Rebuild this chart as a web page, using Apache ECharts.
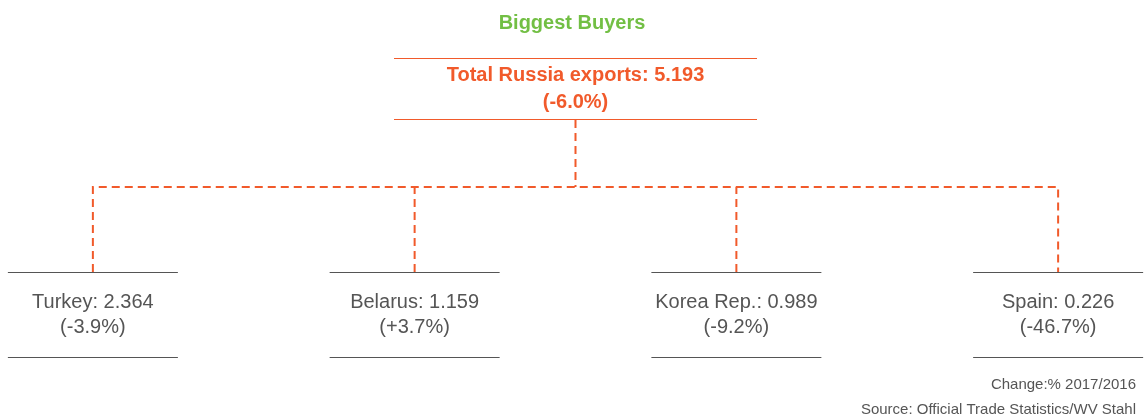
<!DOCTYPE html>
<html>
<head>
<meta charset="utf-8">
<script src="https://cdn.jsdelivr.net/npm/echarts@6/dist/echarts.min.js"></script>
<style>
  html, body { margin: 0; padding: 0; background: #fff; }
  #chart { width: 1144px; height: 416px; }
</style>
</head>
<body>
<div id="chart"></div>
<script>
// data
const rootLabel = 'Total Russia exports';
const rootValue = 5.193;
const rootChange = -6.0;
const buyers = ['Turkey', 'Belarus', 'Korea Rep.', 'Spain'];
const buyerValues = [2.364, 1.159, 0.989, 0.226];
const buyerChanges = [-3.9, 3.7, -9.2, -46.7];

const ORANGE = '#f15a2b';
const GREEN = '#72bf44';
const GREY = '#555555';

function fmtChange(c) {
  return '(' + (c > 0 ? '+' : '') + c.toFixed(1) + '%)';
}

// box = a line above and a line below the label
const rootBox = 'path://M0,0H363V1H0Z M0,61H363V62H0Z';
const leafBox = 'path://M0,0H170V1H0Z M0,85H170V86H0Z';

const treeData = {
  name: rootLabel,
  value: rootValue,
  change: rootChange,
  symbol: rootBox,
  symbolSize: [363, 62],
  symbolOffset: [0, -31],
  children: buyers.map((b, i) => ({
    name: b,
    value: buyerValues[i],
    change: buyerChanges[i],
    symbol: leafBox,
    symbolSize: [170, 86],
    symbolOffset: [0, 43]
  }))
};

const chart = echarts.init(document.getElementById('chart'));
chart.setOption({
  animation: false,
  title: [
    {
      text: 'Biggest Buyers',
      left: 'center',
      top: 8,
      textStyle: { color: GREEN, fontSize: 20, fontWeight: 'bold', fontFamily: 'Liberation Sans Narrow, Arial Narrow, sans-serif' }
    },
    {
      text: 'Change:% 2017/2016',
      right: 3,
      top: 372,
      textStyle: { color: GREY, fontSize: 15, fontWeight: 'normal', fontFamily: 'Liberation Sans, Arial, sans-serif' }
    },
    {
      text: 'Source: Official Trade Statistics/WV Stahl',
      right: 3,
      top: 397,
      textStyle: { color: GREY, fontSize: 15, fontWeight: 'normal', fontFamily: 'Liberation Sans, Arial, sans-serif' }
    }
  ],
  series: [
    {
      type: 'tree',
      orient: 'TB',
      layout: 'orthogonal',
      edgeShape: 'polyline',
      edgeForkPosition: '44%',
      expandAndCollapse: false,
      initialTreeDepth: -1,
      roam: false,
      left: -68,
      width: 1287,
      top: 120,
      height: 152,
      data: [treeData],
      itemStyle: { color: ORANGE, borderWidth: 0 },
      lineStyle: { color: ORANGE, width: 2, type: [8, 5], curveness: 0 },
      label: {
        position: 'inside',
        color: ORANGE,
        fontSize: 20,
        lineHeight: 27,
        fontWeight: 'bold',
        fontFamily: 'Liberation Sans Narrow, Arial Narrow, sans-serif',
        align: 'center',
        formatter: p => p.name + ': ' + p.value.toFixed(3) + '\n' + fmtChange(p.data.change)
      },
      leaves: {
        itemStyle: { color: GREY, borderWidth: 0 },
        label: {
          position: 'inside',
          color: GREY,
          fontSize: 20,
          lineHeight: 25,
          fontWeight: 'normal',
          fontFamily: 'Liberation Sans, Arial, sans-serif',
          align: 'center',
          formatter: p => p.name + ': ' + p.value.toFixed(3) + '\n' + fmtChange(p.data.change)
        }
      },
      emphasis: { disabled: true }
    }
  ]
});
</script>
</body>
</html>
